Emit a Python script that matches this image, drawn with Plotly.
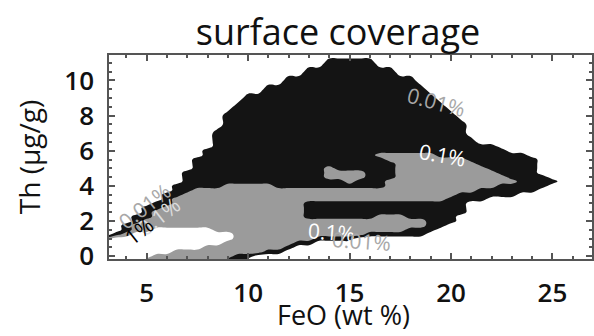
import numpy as np
import plotly.graph_objects as go

# FeO grid (wt %) and Th grid (ug/g) on which the coverage class was read
feo_grid = [3 + 0.5 * i for i in range(49)]
th_grid = [11.5, 11, 10.5, 10, 9.5, 9, 8.5, 8, 7.5, 7, 6.5, 6.25, 6, 5.75, 5.5, 5.25,
           5, 4.75, 4.5, 4.25, 4, 3.75, 3.5, 3.25, 3, 2.75, 2.5, 2.25, 2, 1.75, 1.5,
           1.25, 1, 0.75, 0.5, 0.25, 0, -0.25]

# coverage class along each Th row: class symbol followed by FeO where that class starts
# '.' < 0.01 %, 'b' 0.01-0.1 %, 'g' 0.1-1 %, 'w' > 1 %
coverage_rows = [
    ". 3",
    ". 3, b 14, . 16.5",
    ". 3, b 13, . 17.5",
    ". 3, b 12, . 18.5",
    ". 3, b 11, . 19",
    ". 3, b 10, . 19.5",
    ". 3, b 9.5, . 20",
    ". 3, b 9, . 20.5",
    ". 3, b 9, . 21",
    ". 3, b 8.5, . 21",
    ". 3, b 8.5, . 21.5",
    ". 3, b 8.5, . 22.5",
    ". 3, b 8, . 23",
    ". 3, b 8, g 16.5, b 19.5, . 24",
    ". 3, b 7.5, g 17, b 21, . 24.5",
    ". 3, b 7.5, g 17.5, b 21.5, . 24.5",
    ". 3, b 7.5, g 14, b 14.5, g 17.5, b 22, . 24.5",
    ". 3, b 7, g 14, b 16, g 17.5, b 22.5, . 24.5",
    ". 3, b 7, g 14, b 16, g 17.5, b 23, . 25",
    ". 3, b 7, g 15, b 15.5, g 17, b 23.5, . 25.5",
    ". 3, b 6.5, g 9, b 11.5, g 17, b 22.5, . 25",
    ". 3, b 6.5, g 7.5, b 21.5, . 24.5",
    ". 3, b 6, g 7, b 20.5, . 23.5",
    ". 3, b 6, g 6.5, b 20, . 22",
    ". 3, b 5.5, g 6.5, b 13, . 21",
    ". 3, b 5, g 6, b 13, . 21",
    ". 3, b 5, g 5.5, b 13, . 21",
    ". 3, b 4.5, g 5.5, b 13, g 16.5, b 18, . 20.5",
    ". 3, b 4.5, g 5, b 19, . 20.5",
    ". 3, b 4, g 4.5, b 19, . 20",
    ". 3, b 4, g 4.5, w 5.5, g 8.5, b 18, . 19.5",
    ". 3, b 3.5, g 4, w 4.5, g 9.5, b 16, . 19",
    "g 3, w 3.5, g 9.5, b 13.5, . 15.5",
    "w 3, g 9, b 12.5, . 13.5",
    "w 3, g 8, b 12, . 12.5",
    "w 3, g 6.5, b 11, . 12",
    "w 3, g 5.5, b 9.5, . 10.5",
    "w 3, g 5, b 9, . 10",
]

# log10(coverage %) representative of each class
class_log = {".": -2.5, "b": -1.5, "g": -0.5, "w": 0.5}

x_ticks = [5, 10, 15, 20, 25]
y_ticks = [0, 2, 4, 6, 8, 10]


def decode(spec):
    runs = []
    for part in spec.split(","):
        c, s = part.split()
        runs.append((float(s), c))
    row = []
    for x in feo_grid:
        cls = runs[0][1]
        for s, c in runs:
            if x >= s - 1e-9:
                cls = c
        row.append(class_log[cls])
    return row


# rows listed top-down above; hand them to the library bottom-up
z = np.array([decode(s) for s in coverage_rows])[::-1]
y_up = list(th_grid[::-1])
x_in = list(feo_grid)

# repeat the edge rows/columns once more just outside the view, then close the grid
# with an empty (< 0.01 %) frame well outside the visible range
z = np.pad(z, 1, mode="edge")
x_in = [x_in[0] - 0.5] + x_in + [x_in[-1] + 0.5]
y_up = [y_up[0] - 0.5] + y_up + [y_up[-1] + 0.5]
z = np.pad(z, 1, mode="constant", constant_values=class_log["."])
x_in = [x_in[0] - 0.5] + x_in + [x_in[-1] + 0.5]
y_up = [y_up[0] - 0.5] + y_up + [y_up[-1] + 0.5]

BLACK = "#141414"
GRAY = "#9b9b9b"
cscale = [[0, "white"], [0.2, "white"], [0.2, BLACK], [0.5, BLACK],
          [0.5, GRAY], [0.8, GRAY], [0.8, "white"], [1, "white"]]

fig = go.Figure()
fig.add_trace(go.Contour(
    x=x_in, y=y_up, z=z,
    autocontour=False,
    contours=dict(start=-2, end=0, size=1, coloring="fill", showlines=False),
    line=dict(width=0, smoothing=1.3),
    colorscale=cscale, showscale=False, hoverinfo="skip",
))

lab_font = "Open Sans"
labels = [
    (19.3, 8.8, "0.01%", "#a8a8a8", 15),
    (19.6, 5.75, "0.1%", "white", 10),
    (14.1, 1.4, "0.1%", "white", 4),
    (15.6, 0.85, "0.01%", "#a8a8a8", 4),
    (4.9, 2.85, "0.01%", "#a8a8a8", -38),
    (5.6, 2.3, "0.1%", "#dddddd", -38),
    (4.6, 1.45, "1%", "black", -38),
]
for x, y, t, col, ang in labels:
    fig.add_annotation(x=x, y=y, xref="x", yref="y", text=t, showarrow=False,
                       textangle=ang, font=dict(family=lab_font, size=21, color=col))

# x-axis title placed below the tick labels, kept inside the picture
fig.add_annotation(x=0.485, y=-0.372, xref="paper", yref="paper", text="FeO (wt %)",
                   showarrow=False, xanchor="center", yanchor="bottom",
                   font=dict(family="Open Sans", size=27, color="#111111"))

axis_common = dict(
    showline=True, linecolor="#555555", linewidth=1.5, mirror="ticks",
    ticks="inside", ticklen=6, tickwidth=1.5, tickcolor="#555555",
    showgrid=False, zeroline=False, autorange=False,
    tickfont=dict(family="Open Sans", size=26, color="#111111", weight=600),
)

fig.update_layout(
    width=594, height=336,
    margin=dict(l=109, r=2, t=55, b=77, autoexpand=False),
    paper_bgcolor="white", plot_bgcolor="white",
    title=dict(text="surface coverage", x=0.569, xref="container", xanchor="center",
               y=0.905, yref="container", yanchor="middle",
               font=dict(family="Open Sans", size=36, color="#111111")),
    xaxis=dict(range=[3.14, 26.95], tickvals=x_ticks, ticklabelstandoff=10,
               minor=dict(dtick=1, ticks="inside", ticklen=3, tickcolor="#555555"),
               **axis_common),
    yaxis=dict(range=[-0.16, 11.45], tickvals=y_ticks, ticklabelstandoff=8,
               minor=dict(dtick=0.5, ticks="inside", ticklen=3, tickcolor="#555555"),
               title=dict(text="Th (μg/g)", standoff=16,
                          font=dict(family="Open Sans", size=28, color="#111111")),
               **axis_common),
)

fig.write_html("out.html", config={"displayModeBar": False},
               post_script="document.body.style.margin='0';document.body.style.padding='0';")
